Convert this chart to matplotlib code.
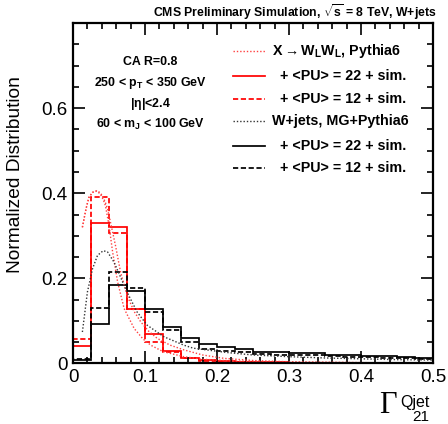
import numpy as np
import matplotlib
matplotlib.use("Agg")
import matplotlib.pyplot as plt
from matplotlib.ticker import MultipleLocator, FixedLocator

plt.rcParams['font.family'] = ['Liberation Sans', 'DejaVu Sans']
plt.rcParams['mathtext.fontset'] = 'custom'
plt.rcParams['mathtext.rm'] = 'Liberation Sans:bold'
plt.rcParams['mathtext.it'] = 'Liberation Sans:bold'
plt.rcParams['mathtext.bf'] = 'Liberation Sans:bold'

# ---- data ----
bin_edges = np.linspace(0.0, 0.5, 21)

ww_pu22 = [0.041, 0.331, 0.320, 0.129, 0.069, 0.030, 0.014, 0.008, 0.005, 0.004,
           0.003, 0.003, 0.002, 0.002, 0.002, 0.002, 0.001, 0.001, 0.001, 0.001]
ww_pu12 = [0.057, 0.392, 0.307, 0.129, 0.051, 0.027, 0.012, 0.006, 0.004, 0.003,
           0.002, 0.002, 0.002, 0.001, 0.001, 0.001, 0.001, 0.001, 0.001, 0.001]
wj_pu22 = [0.008, 0.093, 0.184, 0.170, 0.127, 0.086, 0.060, 0.045, 0.038, 0.033,
           0.028, 0.026, 0.025, 0.024, 0.021, 0.020, 0.018, 0.017, 0.015, 0.013]
wj_pu12 = [0.010, 0.131, 0.216, 0.177, 0.120, 0.079, 0.051, 0.035, 0.030, 0.026,
           0.023, 0.021, 0.020, 0.019, 0.017, 0.016, 0.015, 0.014, 0.012, 0.011]

# generator-level shapes (smooth curves)
ww_gen_x = [0.013, 0.018, 0.022, 0.027, 0.033, 0.037, 0.041, 0.045, 0.048, 0.052,
            0.059, 0.066, 0.075, 0.085, 0.094, 0.105, 0.117, 0.135, 0.154, 0.180,
            0.210, 0.250, 0.300, 0.400, 0.500]
ww_gen_y = [0.320, 0.363, 0.390, 0.402, 0.406, 0.402, 0.394, 0.378, 0.363, 0.332,
            0.277, 0.215, 0.160, 0.122, 0.098, 0.076, 0.059, 0.043, 0.032, 0.020,
            0.012, 0.007, 0.004, 0.002, 0.001]
ww_gen2_x = [0.013, 0.018, 0.022, 0.027, 0.033, 0.038, 0.042, 0.045, 0.050, 0.055,
             0.062, 0.071, 0.085, 0.097, 0.108, 0.125, 0.154, 0.180, 0.220, 0.300,
             0.400, 0.500]
ww_gen2_y = [0.320, 0.363, 0.390, 0.402, 0.405, 0.398, 0.385, 0.371, 0.324, 0.262,
             0.191, 0.129, 0.082, 0.058, 0.043, 0.028, 0.016, 0.010, 0.006, 0.003,
             0.002, 0.001]
wj_gen_x = [0.013, 0.020, 0.027, 0.034, 0.042, 0.048, 0.057, 0.066, 0.075, 0.089,
            0.103, 0.126, 0.154, 0.167, 0.213, 0.250, 0.300, 0.350, 0.400, 0.450,
            0.500]
wj_gen_y = [0.074, 0.168, 0.222, 0.254, 0.265, 0.262, 0.238, 0.203, 0.168, 0.121,
            0.090, 0.063, 0.043, 0.036, 0.026, 0.020, 0.016, 0.013, 0.011, 0.009,
            0.008]

x_ticks = [0.0, 0.1, 0.2, 0.3, 0.4, 0.5]
x_tick_labels = ['0', '0.1', '0.2', '0.3', '0.4', '0.5']
y_ticks = [0.0, 0.2, 0.4, 0.6]
y_tick_labels = ['0', '0.2', '0.4', '0.6']

info_lines = ["CA R=0.8", r"250 < p$_\mathrm{T}$ < 350 GeV", r"|$\eta$|<2.4",
              r"60 < m$_\mathrm{J}$ < 100 GeV"]

# ---- figure ----
fig = plt.figure(figsize=(4.48, 4.24), dpi=100)
ax = fig.add_axes([0.163, 0.1427, 0.8035, 0.8031])

HLW = 1.25
ax.stairs(ww_pu22, bin_edges, color='red', lw=HLW, ls='-')
ax.stairs(ww_pu12, bin_edges, color='red', lw=HLW, ls=(0, (3, 1.5)))
ax.stairs(wj_pu22, bin_edges, color='black', lw=HLW, ls='-')
ax.stairs(wj_pu12, bin_edges, color='black', lw=HLW, ls=(0, (3, 1.5)))
ax.plot(ww_gen_x, ww_gen_y, color='#ff4040', lw=1.0, ls=(0, (1, 1.4)))
ax.plot(ww_gen2_x, ww_gen2_y, color='#ff4040', lw=1.0, ls=(0, (1, 1.4)))
ax.plot(wj_gen_x, wj_gen_y, color='#333333', lw=1.0, ls=(0, (1, 1.4)))

ax.set_xlim(0, 0.5)
ax.set_ylim(0, 0.8)
ax.xaxis.set_major_locator(FixedLocator(x_ticks))
ax.xaxis.set_minor_locator(MultipleLocator(0.02))
ax.yaxis.set_major_locator(FixedLocator(y_ticks))
ax.yaxis.set_minor_locator(MultipleLocator(0.05))
ax.set_xticklabels(x_tick_labels)
ax.set_yticklabels(y_tick_labels)
ax.tick_params(which='both', direction='in', top=True, right=True, width=1.2,
               labelsize=13.5, colors='black')
ax.tick_params(which='major', length=8.5, pad=4)
ax.tick_params(which='minor', length=4.5)
for s in ax.spines.values():
    s.set_linewidth(1.6)

ax.set_ylabel("Normalized Distribution", fontsize=13.8, labelpad=6)
ax.yaxis.set_label_coords(-0.135, 0.555)

# x-axis title
fig.text(0.846, 0.027, "Γ", fontsize=22, family='Liberation Serif',
         ha='left', va='baseline')
fig.text(0.893, 0.040, "Qjet", fontsize=11.5, ha='left', va='baseline')
fig.text(0.92, 0.006, "21", fontsize=11, ha='left', va='baseline')

# header
fig.text(0.975, 0.961, r"CMS Preliminary Simulation, $\sqrt{s}$ = 8 TeV, W+jets",
         fontsize=8.8, fontweight='bold', ha='right', va='baseline')

# selection text
for i, t in enumerate(info_lines):
    ax.text(0.215, 0.885 - i * 0.061, t, transform=ax.transAxes, fontsize=8.9,
            fontweight='bold', ha='center', va='center')

# legend (drawn manually with line samples)
legend_rows = [
    ('#ff4040', (0, (1, 1.4)), r"X$\rightarrow$W$_\mathrm{L}$W$_\mathrm{L}$, Pythia6", 0.0),
    ('red', '-', "+ <PU> = 22 + sim.", 1.0),
    ('red', (0, (3, 1.5)), "+ <PU> = 12 + sim.", 1.0),
    ('#333333', (0, (1, 1.4)), "W+jets, MG+Pythia6", 0.0),
    ('black', '-', "+ <PU> = 22 + sim.", 1.0),
    ('black', (0, (3, 1.5)), "+ <PU> = 12 + sim.", 1.0),
]
row_y = [50.7, 75.7, 99.0, 120.7, 145.7, 167.7]
for (c, ls, label, indent), py in zip(legend_rows, row_y):
    yf = 1 - py / 424
    lw = 1.0 if isinstance(ls, tuple) and ls[1][0] == 1 else HLW
    fig.add_artist(plt.Line2D([233 / 448, 265 / 448], [yf, yf], color=c, ls=ls, lw=lw))
    fig.text((271.5 + 8.5 * indent) / 448, yf, label, fontsize=10.3, fontweight='bold',
             ha='left', va='center')

fig.savefig("out.png", dpi=100)
